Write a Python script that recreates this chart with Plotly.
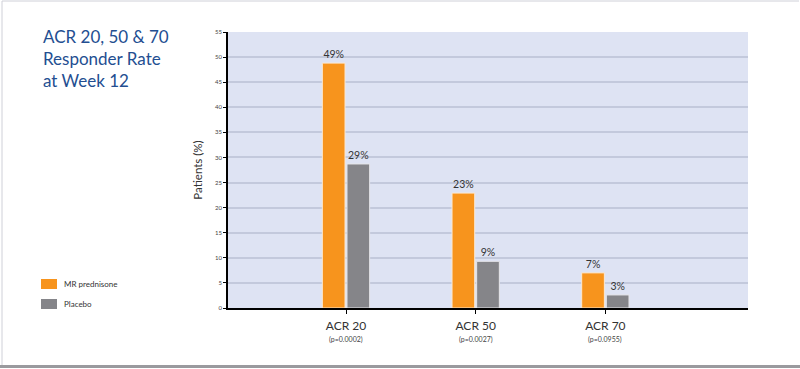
import plotly.graph_objects as go

categories = ["ACR 20", "ACR 50", "ACR 70"]
p_values = ["(p=0.0002)", "(p=0.0027)", "(p=0.0955)"]
mr_prednisone = [48.8, 22.9, 7.0]
placebo = [28.7, 9.3, 2.6]
mr_labels = ["49%", "23%", "7%"]
placebo_labels = ["29%", "9%", "3%"]
y_ticks = [0, 5, 10, 15, 20, 25, 30, 35, 40, 45, 50, 55]
series_names = ["MR prednisone", "Placebo"]

W, H = 800, 369
L, R, T, B = 228, 52, 32, 61
pw = W - L - R
ph = H - T - B

def px_x(x):
    return (x - L) / pw

def px_y(y):
    return (H - B - y) / ph

ORANGE = "#f7941d"
GRAY = "#858589"
TITLE_BLUE = "#234e91"
colors = [ORANGE, GRAY]

fig = go.Figure()
fig.add_trace(go.Bar(
    x=categories, y=mr_prednisone, name=series_names[0],
    marker=dict(color=ORANGE, line=dict(color="#fbe9d3", width=1)),
    text=mr_labels, textposition="outside",
    textfont=dict(size=10.5, color="#333333", family="Lato"),
    cliponaxis=False, showlegend=False,
))
fig.add_trace(go.Bar(
    x=categories, y=placebo, name=series_names[1],
    marker=dict(color=GRAY, line=dict(color="#e6e6ea", width=1)),
    text=placebo_labels, textposition="outside",
    textfont=dict(size=10.5, color="#333333", family="Lato"),
    cliponaxis=False, showlegend=False,
))

annotations = [
    dict(
        text="ACR 20, 50 &amp; 70<br>Responder Rate<br>at Week 12",
        xref="paper", yref="paper", x=px_x(41), y=px_y(24),
        xanchor="left", yanchor="top", align="left", showarrow=False,
        font=dict(size=17, color=TITLE_BLUE, family="Lato"),
    ),
]
for c, p in zip(categories, p_values):
    annotations.append(dict(
        text=p, xref="x", yref="paper", x=c, y=px_y(339),
        xanchor="center", yanchor="middle", showarrow=False,
        font=dict(size=7, color="#444444", family="Lato"),
    ))

shapes = [
    dict(type="line", xref="paper", yref="paper",
         x0=px_x(2), x1=px_x(799), y0=px_y(1), y1=px_y(1),
         line=dict(color="#cfd0d8", width=1)),
    dict(type="line", xref="paper", yref="paper",
         x0=px_x(2), x1=px_x(2), y0=px_y(1), y1=px_y(366),
         line=dict(color="#cfd0d8", width=1)),
    dict(type="line", xref="paper", yref="paper",
         x0=px_x(0), x1=px_x(800), y0=px_y(366.5), y1=px_y(366.5),
         line=dict(color="#9a9a9e", width=3)),
]

legend_y = [284, 304]
for name, col, ly in zip(series_names, colors, legend_y):
    shapes.append(dict(type="rect", xref="paper", yref="paper",
                       x0=px_x(41), x1=px_x(57), y0=px_y(ly - 5), y1=px_y(ly + 5),
                       fillcolor=col, line=dict(width=0)))
    annotations.append(dict(
        text=name, xref="paper", yref="paper", x=px_x(62), y=px_y(ly),
        xanchor="left", yanchor="middle", showarrow=False,
        font=dict(size=8, color="#333333", family="Lato"),
    ))

fig.update_layout(
    width=W, height=H,
    margin=dict(l=L, r=R, t=T, b=B, pad=0),
    paper_bgcolor="white",
    plot_bgcolor="#dee3f3",
    barmode="group",
    bargap=0.62,
    bargroupgap=0.08,
    font=dict(family="Lato", color="#333333"),
    showlegend=False,
    xaxis=dict(
        type="category",
        range=[-0.91, 3.1],
        tickmode="array", tickvals=categories, ticktext=categories,
        tickfont=dict(size=12, color="#333333", family="Lato"),
        ticklabelstandoff=2,
        showline=True, linecolor="black", linewidth=1.5,
        ticks="outside", ticklen=4, tickcolor="black", tickwidth=1,
        showgrid=False, zeroline=False, fixedrange=True,
    ),
    yaxis=dict(
        range=[0, 55],
        tickmode="array", tickvals=y_ticks,
        tickfont=dict(size=6, color="#444444", family="Lato"),
        showline=True, linecolor="black", linewidth=1.5,
        ticks="outside", ticklen=3, tickcolor="black", tickwidth=1,
        showgrid=True, gridcolor="#c3c9dc", gridwidth=1.5,
        zeroline=False, fixedrange=True,
        title=dict(text="Patients (%)", font=dict(size=11.5, color="#333333", family="Lato"), standoff=10),
    ),
    annotations=annotations,
    shapes=shapes,
)

fig.write_html(
    "out.html",
    config={"displayModeBar": False},
    post_script="document.body.style.margin='0';document.body.style.padding='0';document.body.style.overflow='hidden';",
)
